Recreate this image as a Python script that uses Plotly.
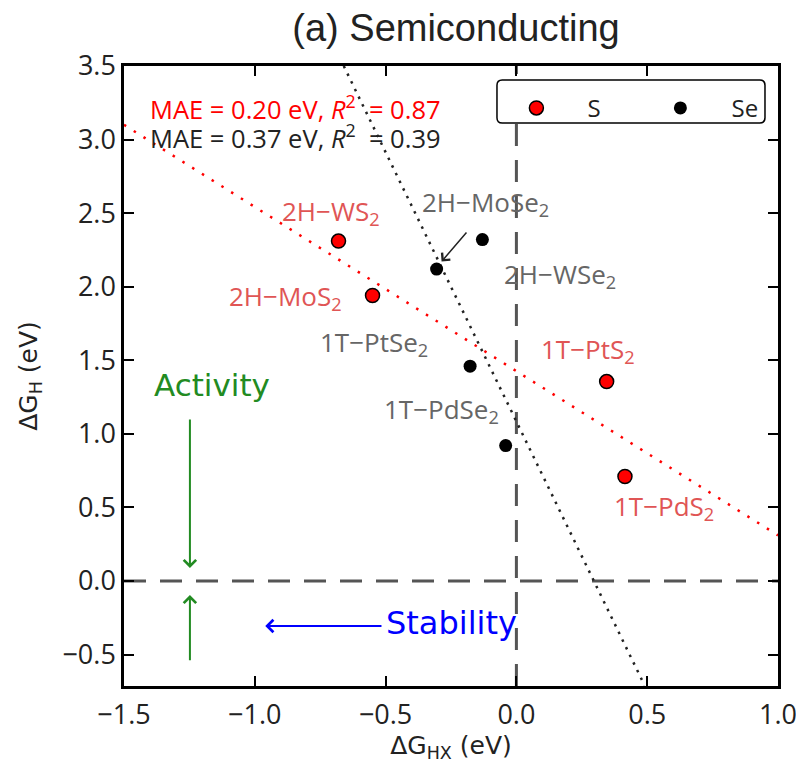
import plotly.graph_objects as go

# ---- data ----
s_names = ["2H−WS<sub>2</sub>", "2H−MoS<sub>2</sub>", "1T−PtS<sub>2</sub>", "1T−PdS<sub>2</sub>"]
s_x = [-0.68, -0.55, 0.345, 0.415]
s_y = [2.31, 1.94, 1.355, 0.71]

se_names = ["2H−MoSe<sub>2</sub>", "2H−WSe<sub>2</sub>", "1T−PtSe<sub>2</sub>", "1T−PdSe<sub>2</sub>"]
se_x = [-0.305, -0.13, -0.177, -0.041]
se_y = [2.12, 2.32, 1.46, 0.92]

fit_s_x = [-1.5, 1.0]
fit_s_y = [3.10, 0.31]
fit_se_x = [-0.66, 0.49]
fit_se_y = [3.5, -0.71]

x_ticks = [-1.5, -1.0, -0.5, 0.0, 0.5, 1.0]
y_ticks = [-0.5, 0.0, 0.5, 1.0, 1.5, 2.0, 2.5, 3.0, 3.5]

# label positions (data coords)
s_label_pos = [(-0.709, 2.51), (-0.881, 1.93), (0.274, 1.57), (0.564, 0.50)]
se_label_pos = [(-0.12, 2.57), (0.167, 2.08), (-0.544, 1.62), (-0.288, 1.16)]

FONT = "Open Sans"
FONT2 = "DejaVu Sans"
X0, X1 = -1.5, 1.0
Y0, Y1 = -0.714, 3.5

fig = go.Figure()

# reference dashed lines
fig.add_shape(type="line", x0=0, x1=0, y0=Y0, y1=Y1, xref="x", yref="y",
              line=dict(color="#555555", width=3, dash="22px,14px"), layer="below")
fig.add_shape(type="line", x0=X0, x1=X1, y0=0, y1=0, xref="x", yref="y",
              line=dict(color="#555555", width=3, dash="22px,14px"), layer="below")

# fit lines
fig.add_trace(go.Scatter(x=fit_s_x, y=fit_s_y, mode="lines", showlegend=False,
                         line=dict(color="red", width=2.5, dash="2.5px,9px"), hoverinfo="skip"))
fig.add_trace(go.Scatter(x=fit_se_x, y=fit_se_y, mode="lines", showlegend=False,
                         line=dict(color="#222222", width=2.5, dash="2.5px,6px"), hoverinfo="skip"))

NB = "\u00a0"
# points
fig.add_trace(go.Scatter(x=s_x, y=s_y, mode="markers", name=NB * 5 + "S",
                         marker=dict(color="red", size=14, line=dict(color="black", width=1.5))))
fig.add_trace(go.Scatter(x=se_x, y=se_y, mode="markers", name=NB * 5 + "Se",
                         marker=dict(color="black", size=13, line=dict(color="black", width=0))))

ann = []
for name, (lx, ly) in zip(s_names, s_label_pos):
    ann.append(dict(x=lx, y=ly, text=name, showarrow=False, xref="x", yref="y",
                    font=dict(family=FONT, size=26, color="#e05555")))
for name, (lx, ly) in zip(se_names, se_label_pos):
    ann.append(dict(x=lx, y=ly, text=name, showarrow=False, xref="x", yref="y",
                    font=dict(family=FONT, size=26, color="#666666")))

# arrow to 2H-MoSe2
ann.append(dict(x=-0.286, y=2.171, ax=-0.186, ay=2.379, axref="x", ayref="y", xref="x", yref="y",
                text="", showarrow=True, arrowhead=4, arrowsize=1.4, arrowwidth=1.5, arrowcolor="#222222"))

# MAE texts
ann.append(dict(x=-1.41, y=3.215, text="MAE = 0.20 eV, <i>R</i><sup>2</sup>  = 0.87", showarrow=False,
                xanchor="left", xref="x", yref="y", font=dict(family=FONT, size=25.5, color="red")))
ann.append(dict(x=-1.41, y=3.02, text="MAE = 0.37 eV, <i>R</i><sup>2</sup>  = 0.39", showarrow=False,
                xanchor="left", xref="x", yref="y", font=dict(family=FONT, size=25.5, color="#222222")))

# Activity / Stability
ann.append(dict(x=-1.162, y=1.33, text="Activity", showarrow=False, xref="x", yref="y",
                font=dict(family=FONT2, size=31, color="#228B22")))
ann.append(dict(x=-1.248, y=0.088, ax=-1.248, ay=1.108, axref="x", ayref="y", xref="x", yref="y",
                text="", showarrow=True, arrowhead=4, arrowsize=1.2, arrowwidth=2, arrowcolor="#228B22"))
ann.append(dict(x=-1.248, y=-0.095, ax=-1.248, ay=-0.55, axref="x", ayref="y", xref="x", yref="y",
                text="", showarrow=True, arrowhead=4, arrowsize=1.2, arrowwidth=2, arrowcolor="#228B22"))
ann.append(dict(x=-0.250, y=-0.285, text="Stability", showarrow=False, xref="x", yref="y",
                font=dict(family=FONT2, size=32, color="blue")))
ann.append(dict(x=-0.96, y=-0.306, ax=-0.51, ay=-0.306, axref="x", ayref="y", xref="x", yref="y",
                text="", showarrow=True, arrowhead=4, arrowsize=1.2, arrowwidth=2, arrowcolor="blue"))

# legend frame (rounded rectangle, paper coords)
lx0, lx1, ly0, ly1 = 0.5703, 0.9801, 0.9081, 0.9774
rx, ry = 0.008, 0.0085
legend_path = (f"M {lx0+rx},{ly1} L {lx1-rx},{ly1} Q {lx1},{ly1} {lx1},{ly1-ry} "
               f"L {lx1},{ly0+ry} Q {lx1},{ly0} {lx1-rx},{ly0} L {lx0+rx},{ly0} "
               f"Q {lx0},{ly0} {lx0},{ly0+ry} L {lx0},{ly1-ry} Q {lx0},{ly1} {lx0+rx},{ly1} Z")
fig.add_shape(type="path", path=legend_path, xref="paper", yref="paper",
              line=dict(color="black", width=1.5), fillcolor="white", layer="above")

# page body has an 8px default margin, so the figure is sized/offset to fit the window
fig.update_layout(
    width=796, height=755,
    margin=dict(l=116, r=26, t=58, b=77, autoexpand=False),
    plot_bgcolor="white", paper_bgcolor="white",
    title=dict(text="(a) Semiconducting", x=0.5628, xanchor="center", y=0.9735, yanchor="middle",
               font=dict(family="Liberation Sans", size=38, color="#222222")),
    annotations=ann,
    showlegend=True,
    legend=dict(orientation="h", x=0.600, y=0.968, xanchor="left", yanchor="top",
                borderwidth=0, bgcolor="rgba(0,0,0,0)",
                entrywidth=99, font=dict(family=FONT, size=24, color="#222222")),
    font=dict(family=FONT, color="#222222"),
)
fig.update_xaxes(range=[X0, X1], tickvals=x_ticks,
                 ticktext=[("−" if v < 0 else "") + f"{abs(v):.1f}" for v in x_ticks],
                 ticks="inside", ticklen=10, tickwidth=1.5, tickcolor="black",
                 showline=True, linecolor="black", linewidth=2.5, mirror="ticks",
                 showgrid=False, zeroline=False, tickfont=dict(size=27), automargin=False,
                 ticklabelstandoff=3, ticklabeloverflow="allow",
                 title=dict(text="ΔG<sub>HX</sub> (eV)", font=dict(family=FONT2, size=25), standoff=12))
fig.update_yaxes(range=[Y0, Y1], tickvals=y_ticks,
                 ticktext=[("−" if v < 0 else "") + f"{abs(v):.1f}" for v in y_ticks],
                 ticks="inside", ticklen=10, tickwidth=1.5, tickcolor="black",
                 showline=True, linecolor="black", linewidth=2.5, mirror="ticks",
                 showgrid=False, zeroline=False, tickfont=dict(size=27), automargin=False,
                 ticklabeloverflow="allow",
                 title=dict(text="ΔG<sub>H</sub> (eV)", font=dict(family=FONT2, size=25), standoff=18))

fig.write_html("out.html")
